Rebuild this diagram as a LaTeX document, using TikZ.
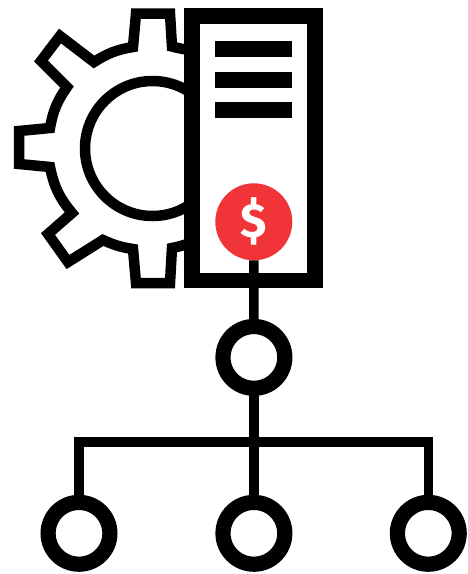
\documentclass[tikz,border=0pt]{standalone}
\usepackage{fontspec}
\setmainfont{Fira Sans}
\definecolor{redc}{HTML}{F13438}
\tikzset{
  x=1pt,y=-1pt,
  gearline/.style={line width=10.5pt,line join=miter,miter limit=10},
  hub/.style={circle,draw,line width=15.2pt,fill=white,minimum size=61.8pt,inner sep=0pt,outer sep=0pt},
  link/.style={line width=9.5pt},
  bar/.style={fill=black},
  coin/.style={circle,fill=redc,minimum size=77pt,inner sep=0pt,outer sep=0pt,text=white,font=\bfseries\fontsize{48}{48}\selectfont}
}
\begin{document}
\begin{tikzpicture}
\useasboundingbox (0,0) rectangle (468,574);
\fill[white] (0,0) rectangle (468,574);
% gear
\draw[gearline] (190,50) to[bend left=4] (172,46.5) -- (170,13.7) -- (136,13.7) -- (133,47)
  to[bend right=11.5] (94,62) -- (60,36) -- (41,61) -- (67,87)
  to[bend right=12.5] (50,128) -- (19,131) -- (19,164) -- (50,167)
  to[bend right=14] (72,213) -- (48,234) -- (68,262) -- (103,240)
  to[bend right=8] (133,249) -- (136,283) -- (170,283) -- (172,248) to[bend left=-4] (190,243);
\draw[line width=10.5pt] (152.5,148.5) circle[radius=67.5];
% server box
\node[draw,line width=15.5pt,fill=white,minimum width=122.8pt,minimum height=264.5pt,inner sep=0pt,outer sep=0pt] (srv) at (253.6,148.2) {};
\fill[bar] (215,41) rectangle (292,57);
\fill[bar] (215,72) rectangle (292,88);
\fill[bar] (215,102) rectangle (292,118);
% network
\node[hub] (mid) at (253.9,357.4) {};
\node[hub] (la) at (79,533.3) {};
\node[hub] (lb) at (253.9,533.3) {};
\node[hub] (lc) at (428.3,533.3) {};
\coordinate (busl) at (79,442);
\coordinate (busm) at (253.9,442);
\coordinate (busr) at (428.3,442);
\node[coin] (coin) at (253.8,221.8) {\$};
\draw[link] (coin) -- (mid);
\draw[link] (mid) -- (lb);
\draw[link,line cap=rect] (busl) -- (busr);
\draw[link] (busl) -- (la);
\draw[link] (busr) -- (lc);
\end{tikzpicture}
\end{document}
